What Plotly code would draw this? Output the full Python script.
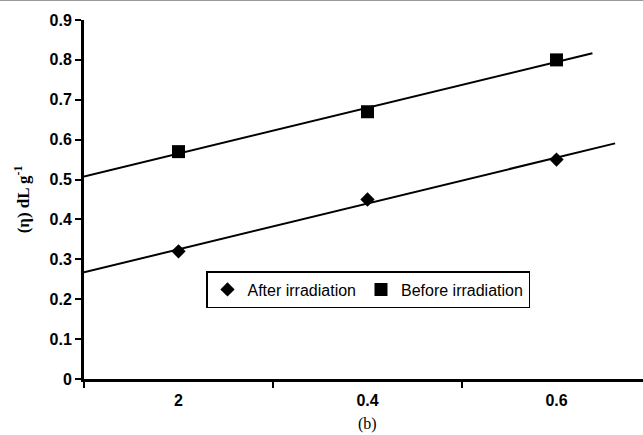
import numpy as np
import plotly.graph_objects as go

# Data
x_pos = [1, 2, 3]
x_labels = ["2", "0.4", "0.6"]
after = [0.32, 0.45, 0.55]
before = [0.57, 0.67, 0.80]
y_ticks = [0, 0.1, 0.2, 0.3, 0.4, 0.5, 0.6, 0.7, 0.8, 0.9]

W, H = 643, 435
ml, mr, mt, mb = 84, 0, 20, 56
pw = W - ml - mr
ph = H - mt - mb
cat_px = 189.0
x_lo = 0.5
x_hi = x_lo + pw / cat_px

# linear trendlines (Excel-style, with forecasts)
def trend(y, x0, x1):
    k, b = np.polyfit(x_pos, y, 1)
    xs = np.array([x0, x1])
    return xs, k * xs + b

ax_x, ax_y = trend(after, 0.5, 3.31)
bx_x, bx_y = trend(before, 0.5, 3.19)

fig = go.Figure()
fig.add_trace(go.Scatter(x=bx_x, y=bx_y, mode="lines", line=dict(color="black", width=2),
                         showlegend=False, hoverinfo="skip"))
fig.add_trace(go.Scatter(x=ax_x, y=ax_y, mode="lines", line=dict(color="black", width=2),
                         showlegend=False, hoverinfo="skip"))
fig.add_trace(go.Scatter(x=x_pos, y=after, mode="markers", name="After irradiation",
                         marker=dict(symbol="diamond", size=11, color="black")))
fig.add_trace(go.Scatter(x=x_pos, y=before, mode="markers", name="Before irradiation",
                         marker=dict(symbol="square", size=13, color="black")))
# invisible trace on xaxis2 to carry the category labels
fig.add_trace(go.Scatter(x=x_pos, y=after, xaxis="x2", mode="markers",
                         marker=dict(opacity=0), showlegend=False, hoverinfo="skip"))

fig.update_layout(
    width=W, height=H,
    margin=dict(l=ml, r=mr, t=mt, b=mb),
    paper_bgcolor="white", plot_bgcolor="white",
    font=dict(family="Liberation Sans, Arial", color="black"),
    xaxis=dict(range=[x_lo, x_hi], tickvals=[0.5, 1.5, 2.5, 3.5], showticklabels=False,
               ticks="outside", ticklen=6, tickwidth=2, tickcolor="black",
               showline=True, linecolor="black", linewidth=3, showgrid=False, zeroline=False),
    xaxis2=dict(range=[x_lo, x_hi], overlaying="x", side="bottom", tickvals=x_pos, ticktext=x_labels,
                ticks="", showline=False, showgrid=False, zeroline=False, ticklabelstandoff=10,
                tickfont=dict(family="Liberation Sans, Arial", size=16, color="black", weight="bold")),
    yaxis=dict(range=[0, 0.9], tickvals=y_ticks, ticktext=[f"{v:g}" for v in y_ticks],
               ticks="outside", ticklen=6, tickwidth=2, tickcolor="black",
               showline=True, linecolor="black", linewidth=3, showgrid=False, zeroline=False,
               tickfont=dict(family="Liberation Sans, Arial", size=16, color="black", weight="bold"),
               title=dict(text="(η) dL g<sup>-1</sup>", standoff=16,
                          font=dict(family="Liberation Serif, Times New Roman", size=17, color="black",
                                    weight="bold"))),
    legend=dict(orientation="h", x=(368 - ml) / pw, y=(379 - 271) / ph, xanchor="center", yanchor="top",
                bordercolor="black", borderwidth=1.5, bgcolor="white", itemwidth=30,
                font=dict(family="Liberation Sans, Arial", size=16, color="black")),
    annotations=[dict(text="(b)", xref="x", yref="paper", x=2, y=-(424 - 379) / ph,
                      showarrow=False, yanchor="middle",
                      font=dict(family="Liberation Serif, Times New Roman", size=16, color="black"))],
    shapes=[dict(type="line", xref="paper", yref="paper", x0=-ml / pw, x1=1, y0=1 + mt / ph,
                 y1=1 + mt / ph, line=dict(color="#999999", width=2))],
)

fig.write_html("out.html")
